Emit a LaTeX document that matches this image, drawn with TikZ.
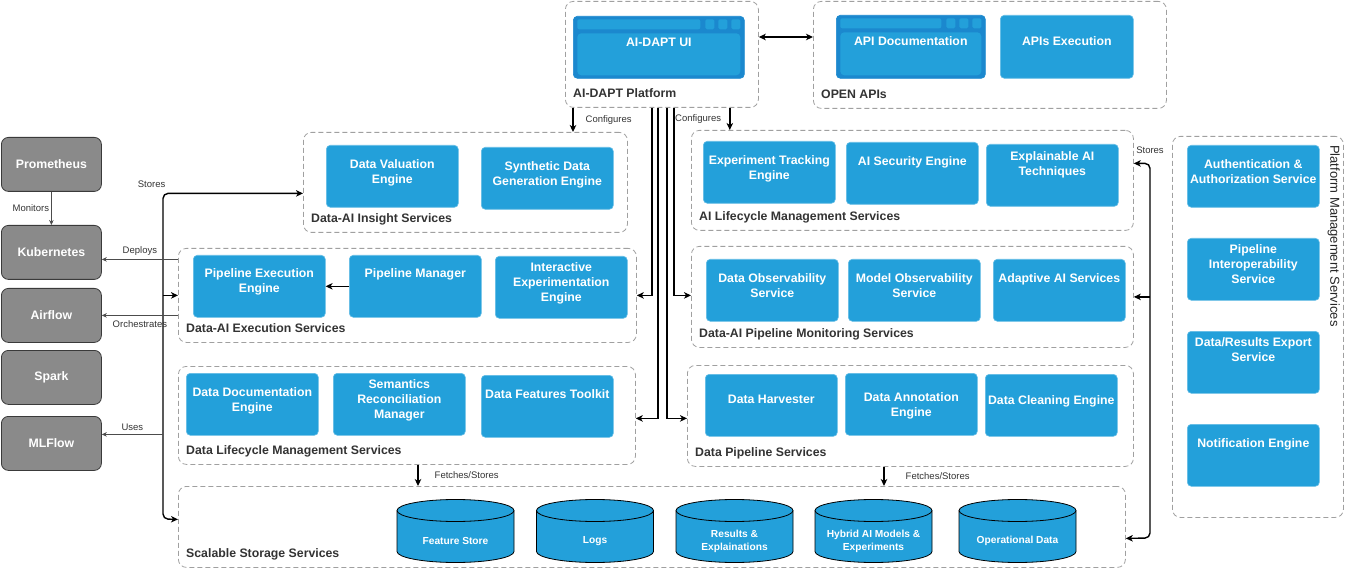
\documentclass[tikz,border=0pt]{standalone}
\usepackage{fontspec}
\setmainfont{Liberation Sans}
\usetikzlibrary{positioning,arrows.meta,calc}

\definecolor{boxblue}{HTML}{23A0DA}
\definecolor{winblue}{HTML}{1B88CE}
\definecolor{toolgray}{HTML}{8A8A8A}
\definecolor{tooledge}{HTML}{3A3A3A}
\definecolor{dashgray}{HTML}{A0A0A0}
\definecolor{lbltext}{HTML}{333333}

\tikzset{
  >={Stealth[length=7pt,width=6.5pt,inset=2pt]},
  blk/.style={
    rectangle,
    rounded corners=4pt,
    fill=boxblue, draw=boxblue!70!white, line width=0.6pt,
    minimum width=132pt,
    minimum height=62pt,
    anchor=north west, inner sep=0pt},
  txt/.style 2 args={label={[blktxt, yshift=#1pt]north:#2}},
  blktxt/.style={text=white, font=\bfseries\fontsize{12.3}{15}\selectfont,
    align=center, anchor=north, inner sep=0pt},
  win/.style={blk, fill=winblue, draw=winblue,
    path picture={
      \fill[boxblue, rounded corners=2pt]
        ([shift={(4pt,-3pt)}]path picture bounding box.north west) rectangle
        ([shift={(-44pt,-13pt)}]path picture bounding box.north east);
      \foreach \r in {4,17,30}
        \fill[boxblue, rounded corners=1.5pt]
          ([shift={(-\r pt,-3pt)}]path picture bounding box.north east) rectangle ++(-9pt,-10pt);
      \fill[boxblue, rounded corners=4pt]
        ([shift={(4pt,-17pt)}]path picture bounding box.north west) rectangle
        ([shift={(-4pt,3pt)}]path picture bounding box.south east);
    }},
  tool/.style={
    rectangle,
    rounded corners=7pt,
    fill=toolgray, draw=tooledge, line width=0.8pt,
    minimum width=100pt, minimum height=54pt,
    anchor=north west,
    text=white, font=\bfseries\fontsize{12.3}{15}\selectfont},
  grp/.style 2 args={draw=dashgray, dash pattern=on 5pt off 3pt,
    rounded corners=8pt, line width=0.8pt,
    minimum width=#1pt, minimum height=#2pt,
    anchor=north west, inner sep=0pt},
  grplbl/.style={label={[grptxt]south west:#1}},
  grptxt/.style={text=lbltext, font=\bfseries\fontsize{12.3}{15}\selectfont,
    anchor=base west, inner sep=0pt, xshift=8pt, yshift=10pt},
  pmtxt/.style={rotate=-90, anchor=west, inner sep=0pt, text=black!85,
    font=\fontsize{13}{15}\selectfont},
  cyl/.style={rectangle, fill=white, minimum width=119pt, minimum height=65pt, inner sep=0pt,
    path picture={
      \draw[fill=boxblue, line width=0.8pt]
        ([shift={(1pt,-12pt)}]path picture bounding box.north west) --
        ([shift={(1pt,12pt)}]path picture bounding box.south west)
        arc[start angle=180, end angle=360, x radius=58.5pt, y radius=11pt] --
        ([shift={(-1pt,-12pt)}]path picture bounding box.north east)
        arc[start angle=0, end angle=180, x radius=58.5pt, y radius=11pt] -- cycle;
      \draw[line width=0.8pt]
        ([shift={(1pt,-12pt)}]path picture bounding box.north west)
        arc[start angle=180, end angle=360, x radius=58.5pt, y radius=11pt];
    }},
  cyltxt/.style={text=white, font=\bfseries\fontsize{10.2}{13}\selectfont,
    align=center, inner sep=0pt, yshift=-10pt},
  heavy/.style={draw=black, line width=1.4pt},
  thinarr/.style={draw=black!70, line width=0.7pt, -{Stealth[length=5pt,width=4.5pt]}},
  elbl/.style={text=lbltext, font=\fontsize{9.5}{11}\selectfont, inner sep=1pt},
}

\begin{document}
\begin{tikzpicture}[x=1pt, y=-1pt]
\useasboundingbox (0,0) rectangle (1346,569);

% platform and open apis
\node[grp={193}{106}, grplbl=AI-DAPT Platform] (plat) at (565,1) {};
\node[win, minimum width=171pt, txt={-22}{AI-DAPT UI}] (aiui) at (573,16) {};
\node[grp={353}{107}, grplbl=OPEN APIs] (oapi) at (813,1) {};
\node[win, minimum width=149pt, minimum height=63pt, txt={-21}{API Documentation}] (apidoc) at (836,15) {};
\node[blk, minimum width=133pt, minimum height=63pt, txt={-21}{APIs Execution}] (apiexec) at (1000,15) {};

% left service groups
\node[grp={324}{100}, grplbl=Data-AI Insight Services] (insight) at (303,132) {};
\node[blk, txt={-14}{Data Valuation\\Engine}] (dve) at (326,145) {};
\node[blk, txt={-14}{Synthetic Data\\Generation Engine}] (sdg) at (481,147) {};

\node[grp={458}{94}, grplbl=Data-AI Execution Services] (exec) at (178,248) {};
\node[blk, txt={-13}{Pipeline Execution\\Engine}] (pee) at (193,255) {};
\node[blk, txt={-13}{Pipeline Manager}] (pmg) at (349,255) {};
\node[blk, txt={-6}{Interactive\\Experimentation\\Engine}] (iee) at (495,256) {};

\node[grp={457}{98}, grplbl=Data Lifecycle Management Services] (dlm) at (178,366) {};
\node[blk, txt={-14}{Data Documentation\\Engine}] (dde) at (186,373) {};
\node[blk, txt={-6}{Semantics\\Reconciliation\\Manager}] (srm) at (333,373) {};
\node[blk, txt={-14}{Data Features Toolkit}] (dft) at (481,375) {};

% right service groups
\node[grp={442}{100}, grplbl=AI Lifecycle Management Services] (ailc) at (691,130) {};
\node[blk, txt={-14}{Experiment Tracking\\Engine}] (ete) at (703,141) {};
\node[blk, txt={-14}{AI Security Engine}] (ase) at (846,142) {};
\node[blk, txt={-7}{Explainable AI\\Techniques}] (xai) at (986,144) {};

\node[grp={442}{101}, grplbl=Data-AI Pipeline Monitoring Services] (mon) at (691,246) {};
\node[blk, txt={-14}{Data Observability\\Service}] (dos) at (706,259) {};
\node[blk, txt={-14}{Model Observability\\Service}] (mos) at (848,259) {};
\node[blk, txt={-14}{Adaptive AI Services}] (adai) at (993,259) {};

\node[grp={446}{101}, grplbl=Data Pipeline Services] (dps) at (687,365) {};
\node[blk, txt={-21}{Data Harvester}] (dhv) at (705,374) {};
\node[blk, txt={-19}{Data Annotation\\Engine}] (dan) at (845,373) {};
\node[blk, txt={-21}{Data Cleaning Engine}] (dcl) at (985,374) {};

% platform management
\node[grp={171}{381}] (pms) at (1172,136) {};
\node[pmtxt] (pmstitle) at ([xshift=-10pt,yshift=-9pt]pms.north east) {Platform Management Services};
\node[blk, txt={-14}{Authentication \&\\Authorization Service}] (auth) at (1187,145) {};
\node[blk, txt={-6}{Pipeline\\Interoperability\\Service}] (pis) at (1187,238) {};
\node[blk, txt={-6}{Data/Results Export\\Service}] (dre) at (1187,331) {};
\node[blk, txt={-14}{Notification Engine}] (ntf) at (1187,424) {};

% storage
\node[grp={947}{81}, grplbl=Scalable Storage Services] (storage) at (178,486) {};
\node[cyl, label={[cyltxt]center:Feature Store}] (fstore) at (455.5,531) {};
\node[cyl, label={[cyltxt]center:Logs}] (logs) at (595,531) {};
\node[cyl, label={[cyltxt]center:Results \&\\Explainations}] (resx) at (734.5,531) {};
\node[cyl, label={[cyltxt]center:Hybrid AI Models \&\\Experiments}] (hyb) at (873.5,531) {};
\node[cyl, label={[cyltxt]center:Operational Data}] (opd) at (1017.5,531) {};

% external tools
\node[tool] (prom) at (1,137) {Prometheus};
\node[tool] (kub) at (1,225) {Kubernetes};
\node[tool] (air) at (1,288) {Airflow};
\node[tool] (spk) at (1,350) {Spark};
\node[tool] (mlf) at (1,416) {MLFlow};

\coordinate (lbus) at (163,519);
\coordinate (rbus) at (1150,538);

% connectors
\draw[heavy,<->] ([yshift=-36pt]plat.north east) -- ([yshift=-36pt]oapi.north west);
\draw[heavy,->] ([xshift=8pt]plat.south west) -- ([xshift=8pt]plat.south west |- insight.north)
  node[elbl, midway, right=11pt] {Configures};
\draw[heavy,->] ([xshift=-29pt]plat.south east) -- ([xshift=-29pt]plat.south east |- ailc.north)
  node[elbl, midway, left=7pt] {Configures};
\draw[heavy,->] ([xshift=87pt]plat.south west) |- (exec.east);
\draw[heavy,->] ([xshift=109pt]plat.south west) |- (exec.east -| mon.west);
\draw[heavy,->] ([xshift=93pt]plat.south west) |- ([yshift=-3pt]dlm.east);
\draw[heavy,->] ([xshift=102pt]plat.south west) |- ([yshift=-3pt]dlm.east -| dps.west);
\draw[heavy,->] (pmg.west) -- (pee.east);

\draw[heavy,<->,rounded corners=5pt] ([yshift=-11pt]insight.west) -| node[elbl, above left=4pt and -4pt] {Stores} (lbus) -- ([yshift=7.5pt]storage.west);
\draw[heavy,->] (lbus |- exec.west) -- (exec.west);
\draw[heavy,<->,rounded corners=5pt] ([yshift=17pt]ailc.east) -| node[elbl, above=8pt] {Stores} (rbus) -- ([yshift=-11.5pt]storage.east);
\draw[heavy,->] (rbus |- mon.east) -- (mon.east);

\draw[heavy,->] ([xshift=240pt]dlm.south west) -- ([xshift=240pt]dlm.south west |- storage.north)
  node[elbl, midway, right=15pt] {Fetches/Stores};
\draw[heavy,->] ([xshift=197pt]dps.south west) -- ([xshift=197pt]dps.south west |- storage.north)
  node[elbl, midway, right=20pt] {Fetches/Stores};

\draw[thinarr] (prom.south) -- (kub.north) node[elbl, midway, left=1pt] {Monitors};
\draw[thinarr] ([yshift=-7pt]exec.west |- kub.east) -- ([yshift=-7pt]kub.east)
  node[elbl, midway, above=3pt] {Deploys};
\draw[thinarr] (exec.west |- air.east) -- (air.east) node[elbl, midway, below=4pt] {Orchestrates};
\draw[thinarr] ([yshift=9pt]lbus |- mlf.east) -- ([yshift=9pt]mlf.east) node[elbl, midway, above=2pt] {Uses};
\end{tikzpicture}
\end{document}
